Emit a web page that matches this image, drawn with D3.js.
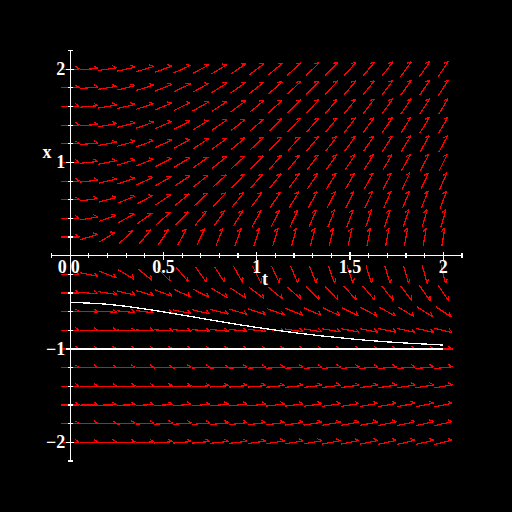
<!DOCTYPE html>
<html>
<head>
<meta charset="utf-8">
<script src="https://cdn.jsdelivr.net/npm/d3@7"></script>
<style>
  html, body { margin: 0; padding: 0; background: #000; }
  svg { display: block; }
  text { font-family: 'Liberation Serif', 'DejaVu Serif', serif; fill: #fff; font-weight: bold; }
</style>
</head>
<body>
<div class="graph-container"></div>
<script>
// set svg parameters
const w = 512;
const h = 512;

// grid of the direction field
const tGrid = [0, 0.1, 0.2, 0.3, 0.4, 0.5, 0.6, 0.7, 0.8, 0.9, 1, 1.1, 1.2, 1.3, 1.4, 1.5, 1.6, 1.7, 1.8, 1.9, 2];
const xGrid = [-2, -1.8, -1.6, -1.4, -1.2, -1, -0.8, -0.6, -0.4, -0.2, 0.2, 0.4, 0.6, 0.8, 1, 1.2, 1.4, 1.6, 1.8, 2];
// slope per unit t for each row (dx/dt = rate * t)
const rowRate = [0.26, 0.24, 0.21, 0.17, 0.1, 0, -0.25, -0.667, -1.5, -4, 6, 3.5, 2.667, 2.25, 2, 1.833, 1.714, 1.625, 1.556, 1.5];

// solution curves
const curveT = [0, 0.2, 0.4, 0.6, 0.8, 1, 1.2, 1.4, 1.6, 1.8, 2];
const curveA = [-0.5, -0.52, -0.57, -0.635, -0.704, -0.768, -0.824, -0.87, -0.908, -0.936, -0.957];
const curveB = [-1, -1, -1, -1, -1, -1, -1, -1, -1, -1, -1];

// ticks
const tMajor = [0, 0.5, 1, 1.5, 2];
const tLabels = ['0', '0.5', '1', '1.5', '2'];
const xMajor = [-2, -1, 1, 2];
const xLabels = ['\u22122', '\u22121', '1', '2'];

const svg = d3.select('.graph-container')
  .append('svg')
  .attr('width', w)
  .attr('height', h);

svg.append('rect').attr('width', w).attr('height', h).attr('fill', '#000');

const xScale = d3.scaleLinear([-0.1, 2.1], [51.5, 462]);
const yScale = d3.scaleLinear([-2.2, 2.2], [461, 50.5]);

// arrows
const len = 18.5;
const head = 5;
const arrows = [];
xGrid.forEach((xv, i) => {
  tGrid.forEach((tv) => {
    const dx = xScale(tv + 1) - xScale(tv);
    const dy = yScale(rowRate[i] * tv) - yScale(0);
    const n = Math.hypot(dx, dy);
    const ux = dx / n;
    const uy = dy / n;
    const cx = xScale(tv);
    const cy = yScale(xv);
    const x1 = cx - ux * len / 2;
    const y1 = cy - uy * len / 2;
    const x2 = cx + ux * len / 2;
    const y2 = cy + uy * len / 2;
    // single barb on the left side
    const a = Math.atan2(uy, ux) - (145 * Math.PI) / 180;
    const hx = x2 + Math.cos(a) * head;
    const hy = y2 + Math.sin(a) * head;
    arrows.push(`M${x1},${y1}L${x2},${y2}M${x2},${y2}L${hx},${hy}`);
  });
});

svg.append('g')
  .selectAll('path')
  .data(arrows)
  .enter()
  .append('path')
  .attr('d', (d) => d)
  .attr('fill', 'none')
  .attr('stroke', '#ff0000')
  .attr('stroke-width', 1.2)
  .attr('shape-rendering', 'crispEdges');

// solution curves
const line = d3.line()
  .x((d) => xScale(d[0]))
  .y((d) => yScale(d[1]))
  .curve(d3.curveMonotoneX);

[curveA, curveB].forEach((c) => {
  svg.append('path')
    .attr('d', line(curveT.map((t, i) => [t, c[i]])))
    .attr('fill', 'none')
    .attr('stroke', '#fff')
    .attr('stroke-width', 1.3)
    .attr('shape-rendering', 'crispEdges');
});

// axes
const axes = svg.append('g')
  .attr('stroke', '#fff')
  .attr('stroke-width', 1.2)
  .attr('shape-rendering', 'crispEdges');
axes.append('line')
  .attr('x1', xScale(-0.1)).attr('x2', xScale(2.1))
  .attr('y1', yScale(0)).attr('y2', yScale(0));
axes.append('line')
  .attr('x1', xScale(0)).attr('x2', xScale(0))
  .attr('y1', yScale(-2.2)).attr('y2', yScale(2.2));

const tTicks = d3.range(-1, 22).map((k) => k / 10);
axes.selectAll('.tt')
  .data(tTicks)
  .enter()
  .append('line')
  .attr('x1', (d) => xScale(d)).attr('x2', (d) => xScale(d))
  .attr('y1', (d) => yScale(0) - (tMajor.includes(d) ? 4 : 2.5))
  .attr('y2', (d) => yScale(0) + (tMajor.includes(d) ? 4 : 2.5));

const xTicks = d3.range(-11, 12).map((k) => k / 5);
axes.selectAll('.xt')
  .data(xTicks)
  .enter()
  .append('line')
  .attr('y1', (d) => yScale(d)).attr('y2', (d) => yScale(d))
  .attr('x1', (d) => xScale(0) - (xMajor.includes(d) ? 4 : 2.5))
  .attr('x2', (d) => xScale(0) + (xMajor.includes(d) ? 4 : 2.5));

// tick labels
svg.selectAll('.tl')
  .data(tMajor)
  .enter()
  .append('text')
  .attr('x', (d, i) => xScale(d) + (i === 0 ? 5 : 0))
  .attr('y', yScale(0) + 17)
  .attr('text-anchor', 'middle')
  .attr('font-size', 18)
  .text((d, i) => tLabels[i]);

svg.selectAll('.xl')
  .data(xMajor)
  .enter()
  .append('text')
  .attr('x', xScale(0) - 5)
  .attr('y', (d) => yScale(d) + 6)
  .attr('text-anchor', 'end')
  .attr('font-size', 18)
  .text((d, i) => xLabels[i]);

svg.append('text')
  .attr('x', xScale(0) - 8)
  .attr('y', yScale(0) + 17)
  .attr('text-anchor', 'middle')
  .attr('font-size', 18)
  .text('0');

// axis titles
svg.append('text').attr('x', 265).attr('y', 285)
  .attr('text-anchor', 'middle').attr('font-size', 18).text('t');
svg.append('text').attr('x', 47).attr('y', 158)
  .attr('text-anchor', 'middle').attr('font-size', 18).text('x');
</script>
</body>
</html>
